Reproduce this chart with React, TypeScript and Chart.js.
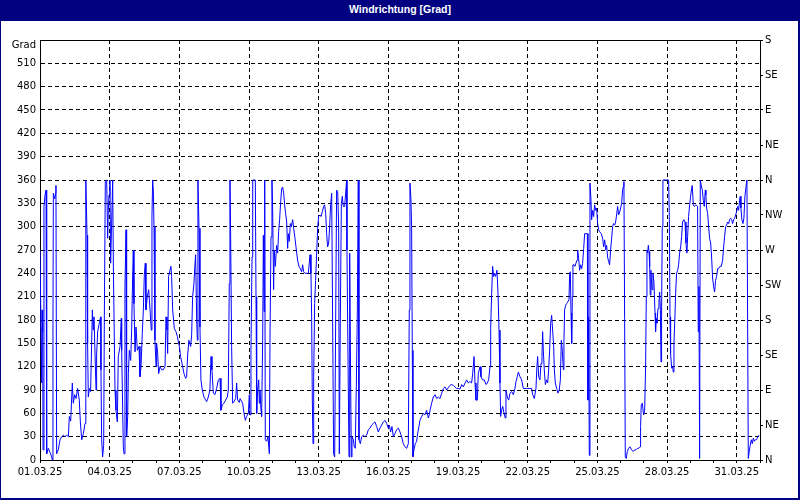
import React, { useEffect, useRef } from 'react';
import { Chart, registerables } from 'chart.js';

Chart.register(...registerables);

const chartTitle = 'Windrichtung [Grad]';
const yAxisUnit = 'Grad';

// hours since 01.03.25 00:00
const hours: number[] = [
  0.0, 1.0, 1.7, 2.1, 2.8, 3.1, 4.1, 5.2, 6.2, 6.9,
  8.6, 10.3, 12.1, 12.7, 13.4, 13.8, 15.2, 16.2, 16.5, 17.2,
  18.9, 20.7, 22.4, 24.1, 25.8, 27.6, 29.3, 30.3, 31.7, 33.4,
  34.4, 35.8, 37.2, 38.9, 40.6, 41.7, 43.1, 44.8, 46.5, 47.2,
  47.5, 48.6, 49.2, 49.9, 51.0, 52.3, 54.1, 55.1, 55.8, 57.9,
  58.5, 59.6, 61.3, 62.7, 63.0, 63.7, 64.7, 65.8, 66.5, 67.5,
  68.9, 69.9, 70.6, 71.3, 72.3, 73.0, 75.1, 75.8, 77.5, 78.5,
  79.9, 80.9, 82.7, 84.0, 84.4, 86.1, 86.8, 87.8, 88.9, 89.5,
  90.6, 91.3, 92.3, 93.7, 94.7, 95.7, 96.4, 97.1, 98.2, 99.2,
  100.6, 102.3, 103.3, 104.4, 105.7, 106.8, 107.8, 108.8, 109.5, 110.9,
  112.3, 113.7, 115.0, 115.7, 116.4, 117.1, 117.8, 118.8, 119.9, 120.5,
  121.6, 122.6, 124.0, 125.7, 127.4, 129.2, 130.2, 131.2, 131.9, 132.9,
  134.3, 135.3, 136.0, 137.1, 138.8, 140.5, 141.9, 144.0, 145.3, 147.4,
  148.8, 150.5, 151.5, 152.6, 153.9, 155.7, 156.7, 157.7, 159.1, 160.1,
  160.8, 161.9, 162.6, 163.2, 164.3, 165.3, 166.3, 167.7, 169.4, 171.2,
  172.2, 173.9, 175.6, 176.7, 177.7, 179.1, 180.8, 182.5, 184.3, 186.0,
  187.0, 188.4, 190.1, 191.8, 193.6, 194.6, 195.6, 196.3, 197.0, 198.0,
  199.1, 200.4, 202.2, 203.2, 204.2, 206.0,
  206.7, 209.4, 210.8, 212.2, 213.5, 215.3, 216.3, 217.0, 218.0, 219.1,
  219.8, 222.5, 223.2, 223.9, 224.9, 226.0, 226.6, 227.3, 228.4, 229.0,
  230.1, 230.8, 231.5, 232.2, 232.8, 234.2, 235.6, 237.0, 237.7, 238.7,
  239.7, 240.4, 241.4, 242.1, 243.2, 244.5, 245.6, 246.6, 247.6, 248.7,
  249.7, 250.7, 251.8, 252.8, 253.8, 254.9, 255.9, 256.6, 257.6, 258.7,
  259.7, 261.1, 262.1, 263.5, 264.9, 266.2, 267.6, 269.0, 270.4, 271.4,
  272.4, 273.8, 277.3, 279.0, 280.0, 280.7, 281.4, 282.1, 282.8, 283.8,
  284.8, 285.9, 286.9, 287.9, 289.3, 290.4, 291.7, 293.1, 294.1, 295.2,
  296.2, 297.2, 298.3, 299.3, 300.3, 301.4, 302.4, 303.4, 304.5, 305.5,
  306.5, 307.6, 308.6, 309.3, 310.3, 311.4, 312.4, 313.4, 314.8, 315.8,
  316.9, 317.2, 317.9, 318.6, 319.3, 320.0, 321.0, 321.7, 322.4, 323.8,
  324.8, 325.8, 326.9, 327.9, 328.9, 329.6, 331.0, 332.4, 334.1, 335.8,
  337.5, 339.3, 341.0, 342.7, 344.4, 346.1, 347.9, 349.6, 351.3, 353.0,
  354.8, 356.5, 358.2, 359.9, 361.0, 362.3, 363.7, 365.1, 366.8, 368.5,
  370.3, 372.0, 373.7, 375.4, 377.1, 378.9, 380.6, 381.6, 382.3, 383.3,
  384.0, 384.7, 385.4, 386.4, 387.8, 389.2, 390.2, 391.6, 392.6, 394.4,
  396.1, 397.8, 399.5, 401.3, 402.3,
  403.0, 404.7, 406.4, 408.2, 409.9, 411.6, 413.3, 415.1, 416.8, 418.5,
  420.2, 421.9, 423.7, 425.4, 427.1, 428.8, 430.5, 432.3, 434.0, 435.7,
  437.4, 439.2, 440.9, 442.6, 444.3, 446.0, 447.1, 448.5, 449.5, 450.5,
  451.9, 452.9, 454.7, 455.7, 457.4, 459.1, 460.9, 462.2, 463.6, 465.0,
  465.7, 466.7, 467.7, 468.8, 469.8, 470.8, 472.2, 473.3, 474.3, 475.3,
  476.0, 477.0, 478.1, 479.5, 480.8, 481.5, 482.9, 484.3, 485.7, 487.4,
  489.1, 490.8, 491.9, 493.2, 494.3, 496.0, 497.7, 499.4, 502.9, 506.3,
  508.0, 509.1, 510.8, 512.5, 513.5, 514.2, 515.3, 516.6, 517.7, 518.7,
  519.4, 520.1, 521.1, 522.2, 523.5, 524.6, 525.6, 526.6, 527.7, 528.7,
  529.7, 530.8, 531.5, 532.5, 533.9, 535.2, 536.6, 537.7, 538.7, 539.7,
  540.8, 541.4, 542.1, 543.2, 544.2, 545.2, 546.6, 547.3, 548.0, 548.7,
  549.4, 550.1, 550.7, 551.8, 552.8, 553.8, 554.9, 555.6, 556.6, 557.6,
  558.7, 559.7, 560.7, 561.8, 562.8, 564.2, 565.6, 566.2, 566.9, 567.6,
  568.3, 569.3, 570.0, 571.1, 572.1, 573.1, 574.2, 575.2, 576.2, 577.3,
  578.0,
  580.0, 581.4, 582.4, 583.5, 584.5, 585.5, 586.5, 587.6, 588.6, 589.6,
  590.7, 591.7, 592.7, 593.8, 594.8, 595.8, 596.9, 597.9, 599.0, 600.0,
  601.0, 602.0, 602.7, 603.4, 604.1, 604.8, 605.8, 606.9, 608.2, 609.6,
  611.3, 613.1, 614.4, 615.8, 617.2, 618.6, 620.0, 620.6, 621.3, 622.4,
  623.7, 624.8, 625.8, 626.5, 627.2, 627.9, 628.6, 629.3, 630.0, 630.6,
  631.3, 632.4, 633.4, 634.4, 635.5, 636.1, 636.8, 637.5, 638.6, 639.6,
  640.3, 641.0, 641.7, 642.3, 643.0, 643.7, 649.6, 650.3, 651.0, 651.6,
  652.7, 653.7, 654.4, 655.1, 656.1, 656.8, 657.8, 658.9, 659.9, 660.9,
  662.0, 663.0, 664.0, 665.4, 666.5, 667.5, 668.5, 669.2, 670.2, 671.3,
  672.3, 673.3, 674.0, 675.1, 676.1, 677.8, 679.5, 680.2, 680.9, 681.6,
  682.3, 683.3, 684.4, 685.4, 686.4, 687.5, 688.1, 688.8, 689.9, 690.9,
  691.9, 693.0, 694.0, 695.0, 696.1, 697.1, 698.1, 699.2, 700.2, 701.2,
  702.6, 704.0, 705.4, 706.4, 707.4, 708.5, 709.5, 710.5, 711.6, 712.6,
  713.6, 714.7, 715.7, 716.7, 717.8, 718.8, 719.8, 720.9, 721.9, 722.9,
  723.6, 724.3, 725.3, 726.4, 727.4, 728.4, 729.5, 730.5, 731.2, 731.9,
  732.9, 733.9, 735.0, 736.0, 737.1, 738.1, 739.1, 740.2, 741.2, 742.2,
  743.2,
];

// wind direction in degrees
const degrees: number[] = [
  270, 270, 99, 193, 165, 13, 326, 341, 347, 8,
  15, 10, 4, 0, 174, 343, 336, 343, 353, 8,
  13, 26, 30, 32, 30, 32, 30, 56, 50, 99,
  73, 84, 79, 92, 77, 49, 26, 34, 47, 200,
  360, 289, 150, 81, 92, 88, 193, 167, 184, 90,
  135, 165, 176, 184, 116, 26, 4, 19, 186, 358,
  360, 285, 321, 341, 360, 253, 360, 249, 90, 64,
  49, 133, 146, 182, 141, 17, 8, 223, 296, 30,
  56, 111, 141, 128, 167, 234, 270, 201, 139, 171,
  141, 146, 107, 120, 163, 193, 238, 253, 193, 210,
  219, 193, 167, 313, 360, 347, 300, 154, 120, 150,
  137, 111, 120, 116, 116, 120, 184, 167, 137, 236,
  244, 249, 236, 193, 169, 165, 159, 146, 133, 120,
  111, 105, 107, 135, 154, 146, 161, 210, 227, 251,
  264, 180, 154, 360, 298, 171, 103, 90, 81, 77,
  75, 81, 90, 133, 116, 86, 84, 92, 103, 105,
  64, 71, 73, 77, 81, 90, 227, 360, 287, 146,
  73, 75, 79, 99, 77, 74,
  79, 73, 60, 51, 56, 60, 84, 58, 141, 261,
  360, 360, 210, 60, 90, 103, 73, 90, 64, 56,
  154, 289, 191, 360, 26, 24, 30, 8, 163, 287,
  360, 324, 219, 270, 249, 276, 266, 294, 309, 332,
  349, 351, 343, 328, 317, 306, 272, 291, 281, 304,
  300, 309, 298, 285, 270, 257, 249, 246, 242, 251,
  242, 240, 240, 264, 240, 184, 77, 21, 107, 201,
  231, 266, 298, 313, 315, 313, 319, 326, 328, 317,
  291, 274, 279, 300, 328, 343, 176, 8, 4, 176,
  347, 345, 300, 8, 176, 330, 339, 326, 326, 343,
  360, 270, 180, 90, 4, 266, 99, 4, 30, 26,
  17, 15, 99, 189, 360, 26, 21, 30, 32, 30,
  32, 39, 41, 45, 47, 49, 43, 36, 41, 45,
  49, 51, 47, 41, 45, 36, 43, 30, 34, 39,
  41, 36, 30, 21, 17, 15, 21, 193, 356, 336,
  300, 141, 4, 13, 21, 24, 34, 43, 51, 56,
  60, 58, 64, 54, 58,
  64, 73, 81, 84, 79, 81, 79, 86, 92, 94,
  90, 93, 96, 97, 96, 94, 92, 92, 91, 97,
  94, 99, 103, 99, 101, 99, 111, 133, 99, 77,
  77, 111, 120, 107, 103, 103, 97, 99, 103, 120,
  169, 214, 249, 236, 240, 236, 244, 214, 167, 99,
  56, 64, 69, 60, 54, 90, 81, 77, 86, 88,
  84, 92, 101, 107, 113, 107, 103, 92, 92, 92,
  92, 84, 79, 92, 120, 133, 107, 103, 124, 133,
  165, 141, 116, 97, 103, 99, 116, 141, 176, 186,
  167, 146, 116, 99, 92, 86, 90, 103, 154, 141,
  116, 152, 193, 199, 201, 203, 206, 240, 242, 189,
  150, 210, 251, 251, 249, 253, 257, 270, 259, 244,
  251, 246, 253, 272, 291, 291, 291, 77, 184, 6,
  356, 336, 309, 321, 313, 328, 321, 324, 304, 296,
  294,
  291, 285, 274, 283, 270, 276, 261, 255, 251, 270,
  285, 300, 304, 302, 306, 315, 326, 315, 319, 324,
  330, 347, 351, 358, 182, 4, 2, 11, 15, 17,
  13, 11, 13, 13, 15, 15, 17, 43, 71, 73,
  58, 64, 120, 210, 270, 266, 276, 268, 249, 212,
  244, 219, 240, 229, 189, 165, 182, 176, 195, 203,
  216, 197, 126, 186, 300, 360, 360, 313, 184, 137,
  118, 120, 113, 150, 184, 214, 240, 244, 251, 266,
  274, 287, 306, 309, 306, 279, 266, 287, 313, 328,
  339, 349, 353, 328, 326, 328, 326, 165, 223, 2,
  360, 353, 347, 334, 326, 347, 341, 324, 317, 300,
  285, 279, 261, 234, 223, 216, 231, 236, 246, 246,
  249, 249, 257, 274, 287, 300, 302, 306, 304, 309,
  311, 309, 304, 309, 311, 315, 319, 326, 321, 334,
  339, 324, 309, 304, 311, 339, 351, 360, 180, 2,
  11, 19, 26, 21, 28, 24, 26, 26, 28, 31,
  32,
];

const dateTickLabels = [
  '01.03.25', '04.03.25', '07.03.25', '10.03.25', '13.03.25', '16.03.25',
  '19.03.25', '22.03.25', '25.03.25', '28.03.25', '31.03.25',
];
const compassLabels = ['N', 'NE', 'E', 'SE', 'S', 'SW', 'W', 'NW', 'N', 'NE', 'E', 'SE', 'S'];

const HOURS_TOTAL = 744;
const DEG_MAX = 540;
const DEG_STEP = 30;
const COMPASS_STEP = 45;

const tickFont = { family: 'DejaVu Sans', size: 10 };

export default function App() {
  const canvasRef = useRef<HTMLCanvasElement | null>(null);

  useEffect(() => {
    const canvas = canvasRef.current;
    if (!canvas) return;

    const unitLabelPlugin = {
      id: 'unitLabel',
      afterDraw(chart: any) {
        const { ctx, chartArea } = chart;
        ctx.save();
        ctx.font = '10px "DejaVu Sans"';
        ctx.fillStyle = '#000';
        ctx.textAlign = 'right';
        ctx.textBaseline = 'middle';
        ctx.fillText(yAxisUnit, chartArea.left - 4, chartArea.top + 5);
        ctx.restore();
      },
    };

    const points = hours.map((h, i) => ({ x: h, y: degrees[i] }));

    const chart = new Chart(canvas, {
      type: 'line',
      data: {
        datasets: [
          {
            data: points,
            borderColor: '#0000FF',
            borderWidth: 1,
            pointRadius: 0,
            tension: 0,
            fill: false,
            xAxisID: 'x',
            yAxisID: 'y',
          },
        ],
      },
      options: {
        responsive: false,
        animation: false,
        parsing: true,
        layout: { padding: { top: 40, left: 0, right: 0, bottom: 0 } },
        plugins: {
          legend: { display: false },
          tooltip: { enabled: false },
          title: { display: false },
        },
        scales: {
          x: {
            type: 'linear',
            position: 'bottom',
            min: 0,
            max: HOURS_TOTAL,
            afterFit: (s: any) => { s.height = 40; },
            afterBuildTicks: (s: any) => {
              const t = [];
              for (let v = 0; v <= HOURS_TOTAL; v += 24) t.push({ value: v });
              s.ticks = t;
            },
            ticks: {
              autoSkip: false,
              maxRotation: 0,
              minRotation: 0,
              color: '#000',
              font: tickFont,
              padding: 3,
              callback: (v: any) => {
                const d = Math.round(Number(v) / 24);
                return d % 3 === 0 && d / 3 < dateTickLabels.length ? dateTickLabels[d / 3] : '';
              },
            },
            grid: {
              color: (c: any) => {
                const v = c.tick ? c.tick.value : 0;
                const d = Math.round(v / 24);
                return v > 0 && v < HOURS_TOTAL && d % 3 === 0 ? '#000' : 'rgba(0,0,0,0)';
              },
              lineWidth: 1,
              drawTicks: true,
              tickLength: 3,
              tickColor: '#000',
              tickWidth: 1,
              tickBorderDash: [0, 0],
            },
            border: { display: true, color: '#000', width: 1, dash: [4, 3] },
          },
          x2: {
            type: 'linear',
            position: 'top',
            min: 0,
            max: HOURS_TOTAL,
            afterFit: (s: any) => { s.height = 0; },
            ticks: { display: false },
            grid: { drawOnChartArea: false, drawTicks: false },
            border: { display: true, color: '#000', width: 1 },
          },
          y: {
            type: 'linear',
            position: 'left',
            min: 0,
            max: DEG_MAX,
            afterFit: (s: any) => { s.width = 40; },
            afterBuildTicks: (s: any) => {
              const t = [];
              for (let v = 0; v <= DEG_MAX; v += DEG_STEP) t.push({ value: v });
              s.ticks = t;
            },
            ticks: {
              autoSkip: false,
              color: '#000',
              font: tickFont,
              padding: 4,
              callback: (v: any) => (Number(v) === DEG_MAX ? '' : String(v)),
            },
            grid: { color: '#000', lineWidth: 1, drawTicks: false },
            border: { display: true, color: '#000', width: 1, dash: [4, 3] },
          },
          y2: {
            type: 'linear',
            position: 'right',
            min: 0,
            max: DEG_MAX,
            afterFit: (s: any) => { s.width = 40; },
            afterBuildTicks: (s: any) => {
              const t = [];
              for (let v = 0; v <= DEG_MAX; v += COMPASS_STEP) t.push({ value: v });
              s.ticks = t;
            },
            ticks: {
              autoSkip: false,
              color: '#000',
              font: tickFont,
              padding: 2,
              callback: (v: any) => compassLabels[Math.round(Number(v) / COMPASS_STEP)],
            },
            grid: {
              drawOnChartArea: false,
              drawTicks: true,
              tickLength: 3,
              tickColor: '#000',
              tickWidth: 1,
            },
            border: { display: true, color: '#000', width: 1 },
          },
        },
      },
      plugins: [unitLabelPlugin],
    } as any);

    return () => chart.destroy();
  }, []);

  return (
    <div style={{ position: 'fixed', left: 0, top: 0, width: 800, height: 500, background: '#fff' }}>
      <canvas ref={canvasRef} width={800} height={500} style={{ position: 'absolute', left: 0, top: 0 }} />
      <div
        style={{
          position: 'absolute',
          left: 0,
          top: 0,
          width: 800,
          height: 21,
          background: '#000080',
          color: '#fff',
          font: 'bold 10.5px "Liberation Sans", Arial, sans-serif',
          lineHeight: '18px',
          textAlign: 'center',
        }}
      >
        {chartTitle}
      </div>
      <div
        style={{
          position: 'absolute',
          left: 0,
          top: 0,
          width: 800,
          height: 500,
          boxSizing: 'border-box',
          borderLeft: '1px solid #000080',
          borderRight: '2px solid #000080',
          borderBottom: '2px solid #000080',
          pointerEvents: 'none',
        }}
      />
    </div>
  );
}
